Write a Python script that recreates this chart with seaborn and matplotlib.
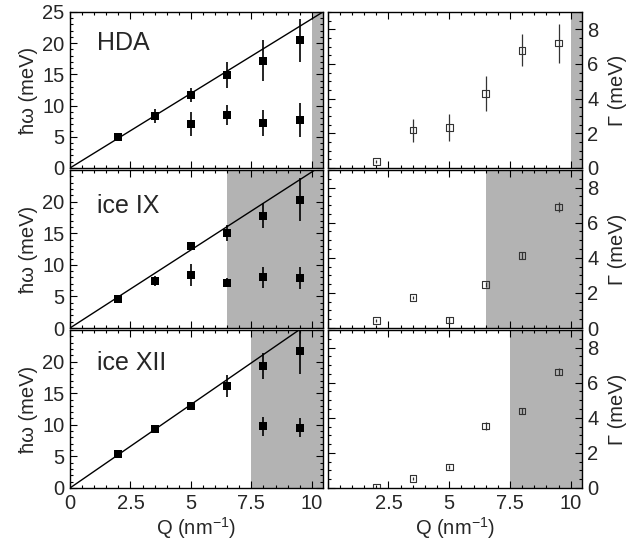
import numpy as np
import pandas as pd
import matplotlib
matplotlib.use("Agg")
import matplotlib.pyplot as plt
from matplotlib.ticker import MultipleLocator, FixedLocator
import seaborn as sns

# ---------------- data ----------------
samples = ["HDA", "ice IX", "ice XII"]
Q = [2.0, 3.5, 5.0, 6.5, 8.0, 9.5]
Q_low = [5.0, 6.5, 8.0, 9.5]

# upper (acoustic-like) branch energies (meV) and errors
hdA_up = [4.9, 8.3, 11.75, 14.95, 17.2, 20.45]
hdA_up_err = [0.3, 1.1, 1.1, 2.1, 3.3, 3.5]
hdA_lo = [7.1, 8.5, 7.15, 7.7]
hdA_lo_err = [1.9, 1.6, 2.1, 2.7]
hdA_gam = [0.37, 2.18, 2.34, 4.3, 6.78, 7.2]
hdA_gam_err = [0.1, 0.66, 0.77, 1.0, 0.92, 1.13]

ix_up = [4.6, 7.5, 12.9, 15.0, 17.8, 20.3]
ix_up_err = [0.3, 0.8, 0.5, 1.3, 2.0, 3.4]
ix_lo = [8.4, 7.2, 8.0, 7.9]
ix_lo_err = [1.7, 0.7, 1.7, 1.8]
ix_gam = [0.42, 1.73, 0.46, 2.49, 4.13, 6.9]
ix_gam_err = [0.1, 0.1, 0.15, 0.15, 0.2, 0.3]

xii_up = [5.4, 9.3, 13.0, 16.1, 19.3, 21.6]
xii_up_err = [0.3, 0.3, 0.3, 1.75, 2.1, 3.5]
xii_lo = [9.75, 9.5]
xii_lo_err = [1.55, 1.5]
xii_lo_Q = [8.0, 9.5]
xii_gam = [0.02, 0.55, 1.2, 3.53, 4.39, 6.62]
xii_gam_err = [0.05, 0.1, 0.1, 0.25, 0.15, 0.2]

slopes = [2.39, 2.47, 2.64]          # linear dispersion (meV nm)
shade_start = [10.0, 6.5, 7.5]       # shaded Q region start

up = [hdA_up, ix_up, xii_up]
up_err = [hdA_up_err, ix_up_err, xii_up_err]
lo = [hdA_lo, ix_lo, xii_lo]
lo_err = [hdA_lo_err, ix_lo_err, xii_lo_err]
lo_Q = [Q_low, Q_low, xii_lo_Q]
gam = [hdA_gam, ix_gam, xii_gam]
gam_err = [hdA_gam_err, ix_gam_err, xii_gam_err]

xticks = [0, 2.5, 5, 7.5, 10]
xticklabels = ["0", "2.5", "5", "7.5", "10"]

# ---------------- style ----------------
sns.set_theme(style="ticks")
plt.rcParams['font.family'] = ['Liberation Sans', 'DejaVu Sans']
plt.rcParams['mathtext.fontset'] = 'custom'
plt.rcParams['mathtext.rm'] = 'Liberation Sans'

XMAX = 10.45
SHADE = "#b3b3b3"
FS = 14.5

fig = plt.figure(figsize=(6.44, 5.41), dpi=100)
lefts = [0.1087, 0.5089]
widths = [0.3924, 0.3944]
bottoms = [0.6895, 0.3937, 0.0980]
heights = [0.2884, 0.2920, 0.2920]
label_y = [0.80, 0.77, 0.79]


def style_ax(ax):
    ax.tick_params(which="both", direction="in", top=True, right=True,
                   bottom=True, left=True, labelsize=FS, color="black", pad=4)
    ax.tick_params(which="major", length=5, width=0.8)
    ax.tick_params(which="minor", length=2.5, width=0.8)
    for s in ax.spines.values():
        s.set_color("black")
        s.set_linewidth(1.0)
    ax.set_xlim(0, XMAX)
    ax.xaxis.set_major_locator(FixedLocator(xticks))
    ax.xaxis.set_minor_locator(MultipleLocator(0.5))


for r in range(3):
    # ---------- left: dispersion ----------
    ax = fig.add_axes([lefts[0], bottoms[r], widths[0], heights[r]])
    style_ax(ax)
    ax.axvspan(shade_start[r], XMAX, color=SHADE, lw=0, zorder=0)
    xs = np.array([0.0, XMAX])
    dfl = pd.DataFrame({"Q": xs, "E": slopes[r] * xs})
    sns.lineplot(data=dfl, x="Q", y="E", ax=ax, color="black", lw=1.0, zorder=2)
    ax.errorbar(Q, up[r], yerr=up_err[r], fmt="none", ecolor="black",
                elinewidth=1.2, capsize=0, zorder=3)
    ax.errorbar(lo_Q[r], lo[r], yerr=lo_err[r], fmt="none", ecolor="black",
                elinewidth=1.2, capsize=0, zorder=3)
    dfu = pd.DataFrame({"Q": Q + lo_Q[r], "E": up[r] + lo[r]})
    sns.scatterplot(data=dfu, x="Q", y="E", ax=ax, marker="s", s=36,
                    color="black", edgecolor="black", linewidth=0, zorder=4)
    ax.set_ylim(0, 25)
    if r == 0:
        ax.set_yticks([0, 5, 10, 15, 20, 25])
    else:
        ax.set_yticks([0, 5, 10, 15, 20])
    ax.yaxis.set_minor_locator(MultipleLocator(1))
    ax.set_ylabel("ħω (meV)", fontsize=FS, labelpad=3)
    ax.text(0.105, label_y[r], samples[r], transform=ax.transAxes, fontsize=18,
            ha="left", va="center")
    if r == 2:
        ax.set_xticklabels(xticklabels)
        ax.set_xlabel("Q (nm$^{-1}$)", fontsize=FS, labelpad=2)
    else:
        ax.set_xticklabels([])
        ax.set_xlabel("")

    # ---------- right: damping ----------
    ax2 = fig.add_axes([lefts[1], bottoms[r], widths[1], heights[r]])
    style_ax(ax2)
    ax2.axvspan(shade_start[r], XMAX, color=SHADE, lw=0, zorder=0)
    ax2.errorbar(Q, gam[r], yerr=gam_err[r], fmt="none", ecolor="#333333",
                 elinewidth=0.9, capsize=0, zorder=3)
    dfg = pd.DataFrame({"Q": Q, "G": gam[r]})
    sns.scatterplot(data=dfg, x="Q", y="G", ax=ax2, marker="s", s=22,
                    facecolor="none", edgecolor="#333333", linewidth=0.8,
                    zorder=4)
    ax2.set_ylim(0, 9)
    ax2.yaxis.set_major_locator(FixedLocator([0, 2, 4, 6, 8]))
    ax2.yaxis.set_minor_locator(MultipleLocator(0.5))
    ax2.yaxis.tick_right()
    ax2.yaxis.set_label_position("right")
    ax2.tick_params(which="both", left=True, right=True, labelleft=False,
                    labelright=True)
    ax2.set_ylabel("Γ (meV)", fontsize=FS, labelpad=7)
    if r == 2:
        ax2.set_xticklabels(["", "2.5", "5", "7.5", "10"])
        ax2.set_xlabel("Q (nm$^{-1}$)", fontsize=FS, labelpad=2)
    else:
        ax2.set_xticklabels([])
        ax2.set_xlabel("")

fig.savefig("out.png", dpi=100)
